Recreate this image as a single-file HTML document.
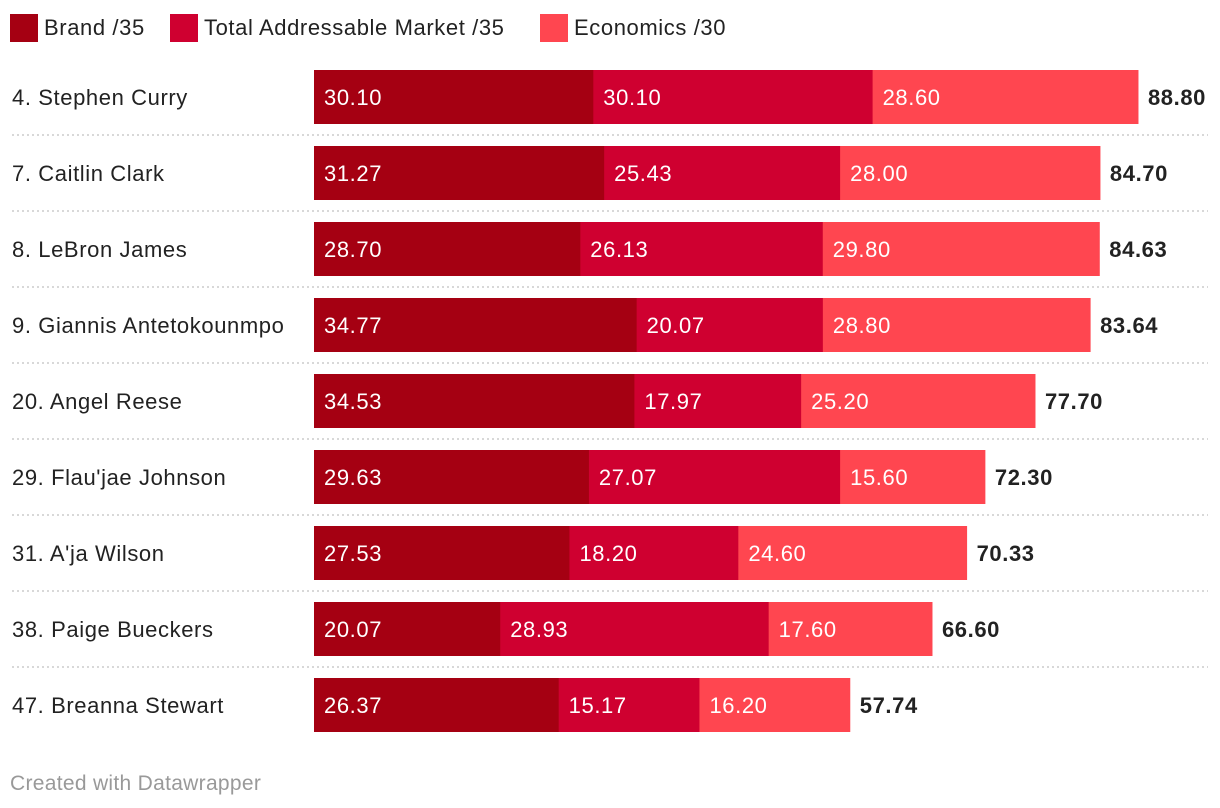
<!DOCTYPE html>
<html><head><meta charset="utf-8"><style>
body{margin:0;width:1220px;height:808px;background:#fff;font-family:"Liberation Sans",sans-serif;overflow:hidden;position:relative}
.lg{position:absolute;top:14px;height:28px;display:flex;align-items:center;font-size:22px;letter-spacing:0.6px;color:#222}
.lg span{display:inline-block;width:28px;height:28px;margin-right:6px}
</style></head><body>
<div>
<div class="lg" style="left:10px"><span style="background:#a50012"></span>Brand /35</div>
<div class="lg" style="left:170px"><span style="background:#cf0030"></span>Total Addressable Market /35</div>
<div class="lg" style="left:540px"><span style="background:#ff4650"></span>Economics /30</div>
</div>
<svg id="chart" width="1220" height="808" style="position:absolute;left:0;top:0"></svg>
<div style="position:absolute;left:10px;top:772px;font-size:21px;letter-spacing:0.3px;color:#999">Created with Datawrapper</div>
<script>
const names=["4. Stephen Curry","7. Caitlin Clark","8. LeBron James","9. Giannis Antetokounmpo","20. Angel Reese","29. Flau'jae Johnson","31. A'ja Wilson","38. Paige Bueckers","47. Breanna Stewart"];
const brand=[30.10,31.27,28.70,34.77,34.53,29.63,27.53,20.07,26.37];
const tam=[30.10,25.43,26.13,20.07,17.97,27.07,18.20,28.93,15.17];
const econ=[28.60,28.00,29.80,28.80,25.20,15.60,24.60,17.60,16.20];
const totals=["88.80","84.70","84.63","83.64","77.70","72.30","70.33","66.60","57.74"];
const colors=["#a50012","#cf0030","#ff4650"];
const svg=document.getElementById('chart');const NS="http://www.w3.org/2000/svg";
const x=v=>314+v*9.279;const y=i=>70+i*76;
function mk(t,a){const e=document.createElementNS(NS,t);for(const k in a)e.setAttribute(k,a[k]);svg.appendChild(e);return e;}
names.forEach((n,i)=>{
 const t=mk('text',{x:12,y:y(i)+35,'font-size':22,'letter-spacing':0.6,fill:'#222'});t.textContent=n;
 
 
 if(i<names.length-1){const l=mk('line',{x1:12,x2:1208,y1:y(i)+65,y2:y(i)+65,stroke:'#ccc','stroke-width':1.5,'stroke-dasharray':'2,3'});
 
 }
 let acc=0;[brand[i],tam[i],econ[i]].forEach((v,k)=>{
  const r=mk('rect',{x:x(acc),y:y(i),width:x(acc+v)-x(acc)+0.5,height:54,fill:colors[k]});
  
  
  const tx=mk('text',{x:x(acc)+10,y:y(i)+35,'font-size':22,'letter-spacing':0.6,fill:'#fff'});tx.textContent=v.toFixed(2);
  
  
  acc+=v;});
 const tt=mk('text',{x:x(acc)+10,y:y(i)+35,'font-size':22,'letter-spacing':0.6,'font-weight':'bold',fill:'#222'});tt.textContent=totals[i];
 
 
});
</script>
</body></html>
